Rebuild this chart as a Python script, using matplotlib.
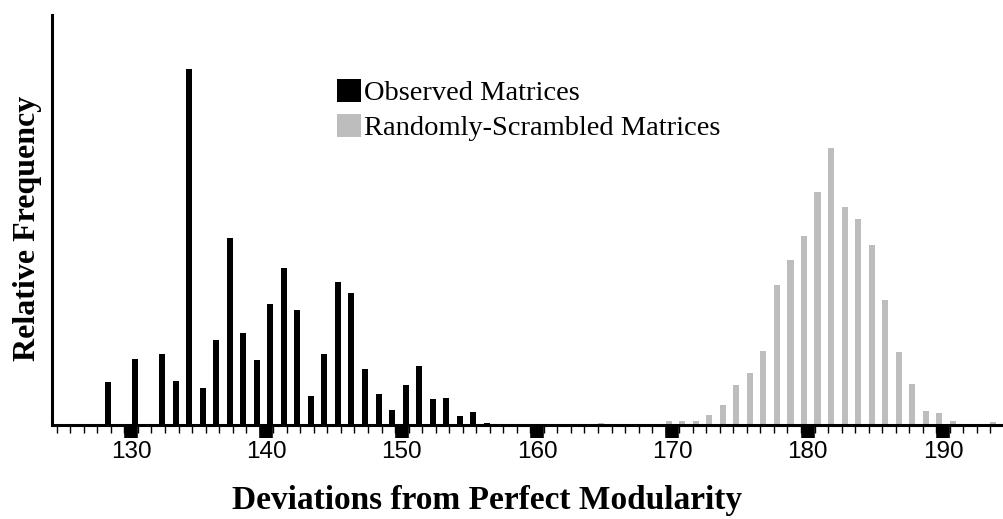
import matplotlib
matplotlib.use("Agg")
import matplotlib.pyplot as plt
from matplotlib.patches import Patch
import numpy as np

# ---- data (relative frequency, arbitrary units) ----
observed_bins = [128, 130, 132, 133, 134, 135, 136, 137, 138, 139, 140, 141,
                 142, 143, 144, 145, 146, 147, 148, 149, 150, 151, 152, 153,
                 154, 155, 156]
observed_freq = [43.3, 66, 70.7, 44, 355.7, 36.7, 85, 186.7, 92.3, 65, 121,
                 157.3, 115, 29, 70.7, 142.7, 131.7, 56, 31, 15, 40, 59, 25.7,
                 27.3, 9.3, 12.7, 1.7]

scrambled_bins = [165, 170, 171, 172, 173, 174, 175, 176, 177, 178, 179, 180,
                  181, 182, 183, 184, 185, 186, 187, 188, 189, 190, 191, 194]
scrambled_freq = [2, 4.5, 4.5, 4.5, 10, 20.5, 40, 51.7, 74.3, 140, 165, 189,
                  233.3, 277.3, 218.3, 205.7, 180, 125, 73.3, 41, 14.3, 11.7,
                  4, 3.3]

major_ticks = [130, 140, 150, 160, 170, 180, 190]
major_labels = ["130", "140", "150", "160", "170", "180", "190"]

series_labels = ["Observed Matrices", "Randomly-Scrambled Matrices"]
x_label = "Deviations from Perfect Modularity"
y_label = "Relative Frequency"

BLACK = "#000000"
GRAY = "#bdbdbd"

fig = plt.figure(figsize=(10.04, 5.19), dpi=100)
ax = fig.add_axes([52 / 1004, 94 / 519, 1 - 52 / 1004, (425 - 15) / 519])

offset = 0.28
ax.bar(np.array(scrambled_bins) - offset, scrambled_freq, width=0.45,
       color=GRAY, linewidth=0)
ax.bar(np.array(observed_bins) + offset, observed_freq, width=0.44,
       color=BLACK, linewidth=0)

ax.set_xlim(124.15, 194.2)
ax.set_ylim(0, 410)

for s in ["top", "right"]:
    ax.spines[s].set_visible(False)
ax.spines["left"].set_linewidth(2.2)
ax.spines["bottom"].set_linewidth(2.2)
ax.spines["bottom"].set_capstyle("butt")

ax.set_yticks([])
ax.set_xticks(major_ticks)
ax.set_xticklabels(major_labels, fontfamily="Liberation Sans", fontsize=17.5)
ax.set_xticks(np.arange(124.5, 194.6, 1.0), minor=True)
ax.tick_params(axis="x", which="major", length=9, width=9.8, pad=2.5,
               color=BLACK, direction="out")
ax.tick_params(axis="x", which="minor", length=5.5, width=1.0, color=BLACK,
               direction="out")

leg = ax.legend(handles=[Patch(facecolor=BLACK, edgecolor="none"),
                         Patch(facecolor=GRAY, edgecolor="none")],
                labels=series_labels, loc="upper left",
                bbox_to_anchor=(337 / 1004, 1 - 79 / 519),
                bbox_transform=fig.transFigure, frameon=False,
                prop={"family": "Liberation Serif", "size": 20.5},
                handlelength=0.85, handleheight=0.85, handletextpad=0.1,
                labelspacing=0.27, borderpad=0, borderaxespad=0)

fig.text(28 / 1004, 1 - 228 / 519, y_label, rotation=90, ha="center",
         va="center", fontfamily="Liberation Serif", fontweight="bold",
         fontsize=23)
fig.text(487 / 1004, 1 - 501 / 519, x_label, ha="center", va="center",
         fontfamily="Liberation Serif", fontweight="bold", fontsize=24)

fig.savefig("out.png", dpi=100)
